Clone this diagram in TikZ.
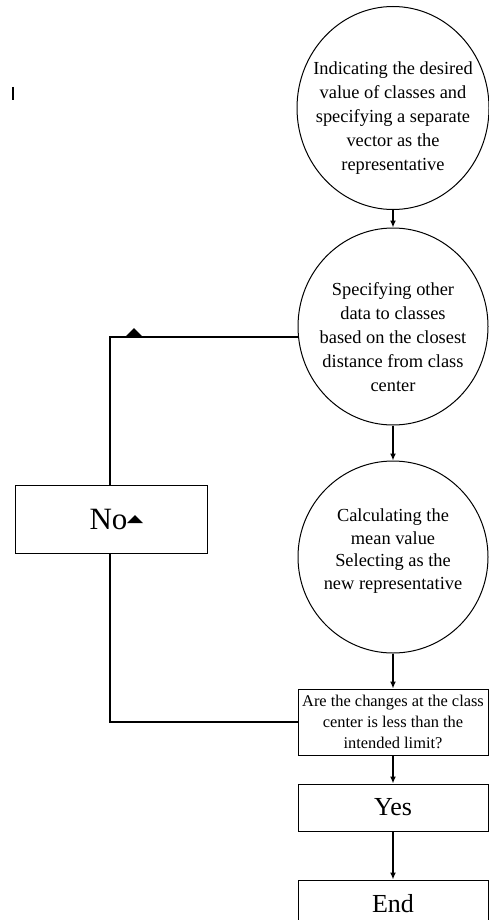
\documentclass[tikz,border=0pt]{standalone}
\usepackage{fontspec}
\setmainfont{Liberation Serif}
\usetikzlibrary{arrows.meta, shapes.geometric}
\tikzset{
  stage/.style={draw, ellipse, inner sep=-12pt, align=center, line width=0.5pt,
    font=\fontsize{9.2}{12}\selectfont},
  box/.style={draw, rectangle, inner sep=0pt, align=center, line width=0.5pt,
    minimum width=95pt},
  flow/.style={-{Latex[length=3.5pt,width=3pt]}, line width=0.7pt}
}

\begin{document}
\begin{tikzpicture}[x=0.5pt, y=-0.5pt]
\useasboundingbox (0,0) rectangle (488,920);

\node[stage, minimum width=96pt, minimum height=101.5pt] (init) at (393,108)
  {\rule{0pt}{16pt}Indicating the desired\\ value of classes and\\ specifying a separate\\ vector as the\\ representative};
\node[stage, minimum width=95pt, minimum height=98.5pt] (assign) at (393,326.5)
  {\rule{0pt}{17pt}Specifying other\\ data to classes\\ based on the closest\\ distance from class\\ center};
\node[stage, minimum width=95pt, minimum height=96pt, font=\fontsize{9.2}{11.3}\selectfont] (mean) at (393,557)
  {Calculating the\\ mean value\\ Selecting as the\\ \rule[-8pt]{0pt}{0pt}new representative};
\node[box, minimum height=33pt, font=\fontsize{8.2}{10.5}\selectfont] (check) at (393,722)
  {Are the changes at the class\\ center is less than the\\ intended limit?};
\node[box, minimum height=23.5pt, font=\fontsize{13}{15}\selectfont] (yes) at (393,807.5) {Yes};
\node[box, minimum height=23.5pt, font=\fontsize{13}{15}\selectfont] (end) at (393,903.5) {End};

\coordinate (turn) at (110,337);

\draw[flow] (init) -- (assign);
\draw[flow] (assign) -- (mean);
\draw[flow] (mean) -- (check);
\draw[flow] (check) -- (yes);
\draw[flow] (yes) -- (end);
\draw[line width=0.8pt] (check.west) -| (turn) -- (assign.west |- turn);

\node[box, minimum width=96pt, minimum height=34pt, fill=white,
  font=\fontsize{15.5}{17}\selectfont] (no) at (111,519) {No\hspace{2.5pt}};

\fill (125,337) -- (134,328) -- (143,337) -- cycle;
\fill (127,523) -- (135,515) -- (143,523) -- cycle;
\draw[line width=0.6pt] (13,87) -- (13,100);

\end{tikzpicture}
\end{document}
